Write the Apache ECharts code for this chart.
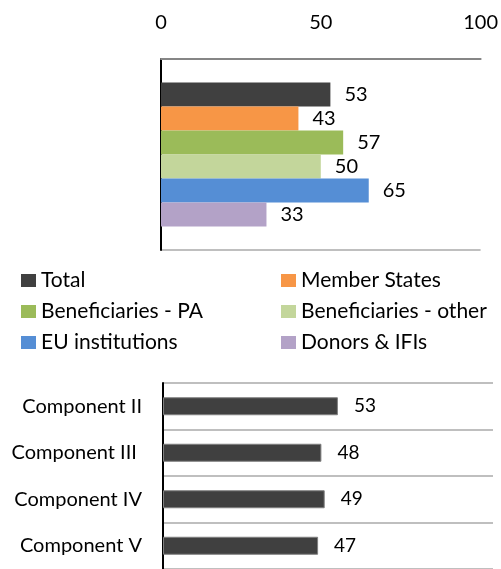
<!DOCTYPE html>
<html>
<head>
<meta charset="utf-8">
<script src="https://cdn.jsdelivr.net/npm/echarts@6/dist/echarts.min.js"></script>
<style>
  html, body { margin: 0; padding: 0; background: #fff; }
  #chart { width: 501px; height: 569px; }
</style>
</head>
<body>
<div id="chart"></div>
<script>
// top chart: one group of bars per stakeholder
var groupNames = ['Total', 'Member States', 'Beneficiaries - PA', 'Beneficiaries - other', 'EU institutions', 'Donors & IFIs'];
var groupValues = [53, 43, 57, 50, 65, 33];
var groupColors = ['#404040', '#f79646', '#9bbb59', '#c3d69b', '#558ed5', '#b3a2c7'];
var axisTicks = [0, 50, 100];

// bottom chart: per component
var components = ['Component II', 'Component III ', 'Component IV', 'Component V'];
var componentValues = [53, 48, 49, 47];

var font = 'Lato';

var series = [];
for (var i = 0; i < groupNames.length; i++) {
    series.push({
        name: groupNames[i],
        type: 'bar',
        xAxisIndex: 0,
        yAxisIndex: 0,
        barWidth: 24,
        barGap: '0%',
        itemStyle: { color: groupColors[i] },
        label: {
            show: true,
            position: 'right',
            distance: 14,
            color: '#000',
            fontFamily: font,
            fontSize: 20
        },
        data: [groupValues[i]]
    });
}
series.push({
    name: 'Components',
    type: 'bar',
    xAxisIndex: 1,
    yAxisIndex: 1,
    barWidth: 18,
    itemStyle: { color: '#404040', borderColor: '#7f7f7f', borderWidth: 1 },
    label: {
        show: true,
        position: 'right',
        distance: 16,
        color: '#000',
        fontFamily: font,
        fontSize: 19
    },
    data: componentValues
});

var legendText = { fontFamily: font, fontSize: 21, color: '#000', lineHeight: 21 };

var myChart = echarts.init(document.getElementById('chart'));
var option = {
    animation: false,
    backgroundColor: '#fff',
    grid: [
        { left: 161, right: 20, top: 59, height: 191 },
        { left: 163, right: 8, top: 383, height: 192 }
    ],
    legend: [
        {
            left: 16, top: 265, orient: 'vertical',
            icon: 'rect', itemWidth: 15, itemHeight: 13, itemGap: 10, itemTextGap: 6,
            textStyle: legendText,
            data: [groupNames[0], groupNames[2], groupNames[4]]
        },
        {
            left: 276, top: 265, orient: 'vertical',
            icon: 'rect', itemWidth: 15, itemHeight: 13, itemGap: 10, itemTextGap: 6,
            textStyle: legendText,
            data: [groupNames[1], groupNames[3], groupNames[5]]
        }
    ],
    xAxis: [
        {
            gridIndex: 0,
            type: 'value',
            position: 'top',
            min: axisTicks[0],
            max: axisTicks[axisTicks.length - 1],
            interval: axisTicks[1] - axisTicks[0],
            axisLine: { show: true, lineStyle: { color: '#868686', width: 2 } },
            axisTick: { show: false },
            splitLine: { show: false },
            axisLabel: { margin: 26, color: '#000', fontFamily: font, fontSize: 20 }
        },
        {
            gridIndex: 1,
            type: 'value',
            min: 0,
            max: 100,
            show: false
        }
    ],
    yAxis: [
        {
            gridIndex: 0,
            type: 'category',
            inverse: true,
            data: [''],
            axisLine: { show: true, lineStyle: { color: '#000', width: 2 } },
            axisTick: { show: false },
            axisLabel: { show: false },
            splitLine: { show: true, lineStyle: { color: '#bfbfbf', width: 2 } }
        },
        {
            gridIndex: 1,
            type: 'category',
            inverse: true,
            data: components,
            axisLine: { show: true, lineStyle: { color: '#000', width: 2 } },
            axisTick: { show: false },
            axisLabel: { margin: 21, color: '#000', fontFamily: font, fontSize: 20 },
            splitLine: { show: true, lineStyle: { color: '#bfbfbf', width: 2 } }
        }
    ],
    series: series
};
myChart.setOption(option);
</script>
</body>
</html>
